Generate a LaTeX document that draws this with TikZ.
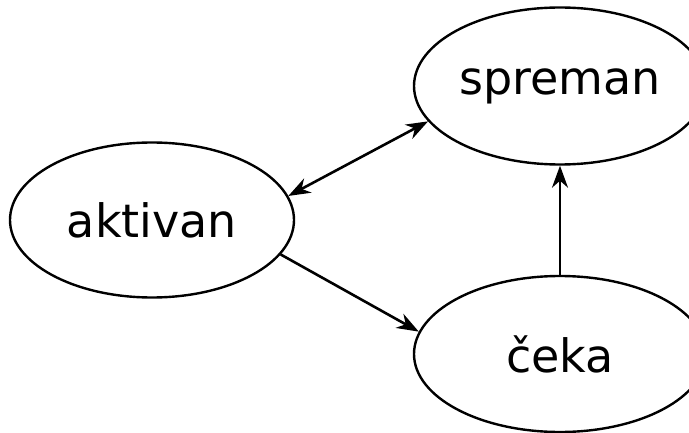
\documentclass[tikz,border=0pt]{standalone}
\usepackage{fontspec}
\setmainfont{DejaVu Sans}
\usetikzlibrary{shapes.geometric,arrows.meta}

\begin{document}
\begin{tikzpicture}[x=1pt,y=-1pt,
        >={Stealth[length=22pt,width=16pt,inset=7pt]},
        state/.style={draw,ellipse,line width=2.4pt,inner sep=0pt,
            minimum width=292pt,minimum height=157pt,
            font=\fontsize{46}{55}\selectfont},
        link/.style={line width=2.6pt,->},
    ]
    \useasboundingbox (0,0) rectangle (689,433);
    % states
    \node[state,minimum width=284pt,minimum height=155pt] (aktivan) at (152,220) {aktivan};
    \node[state] (spreman) at (560,86) {spreman};
    \node[state,minimum height=156pt] (ceka) at (560,354) {čeka};
    % transitions
    \draw[link,<->] (aktivan.10) -- (spreman.195);
    \draw[link] (aktivan.-15) -- (ceka.171);
    \draw[link] (ceka.north) -- (spreman.south);
\end{tikzpicture}
\end{document}
